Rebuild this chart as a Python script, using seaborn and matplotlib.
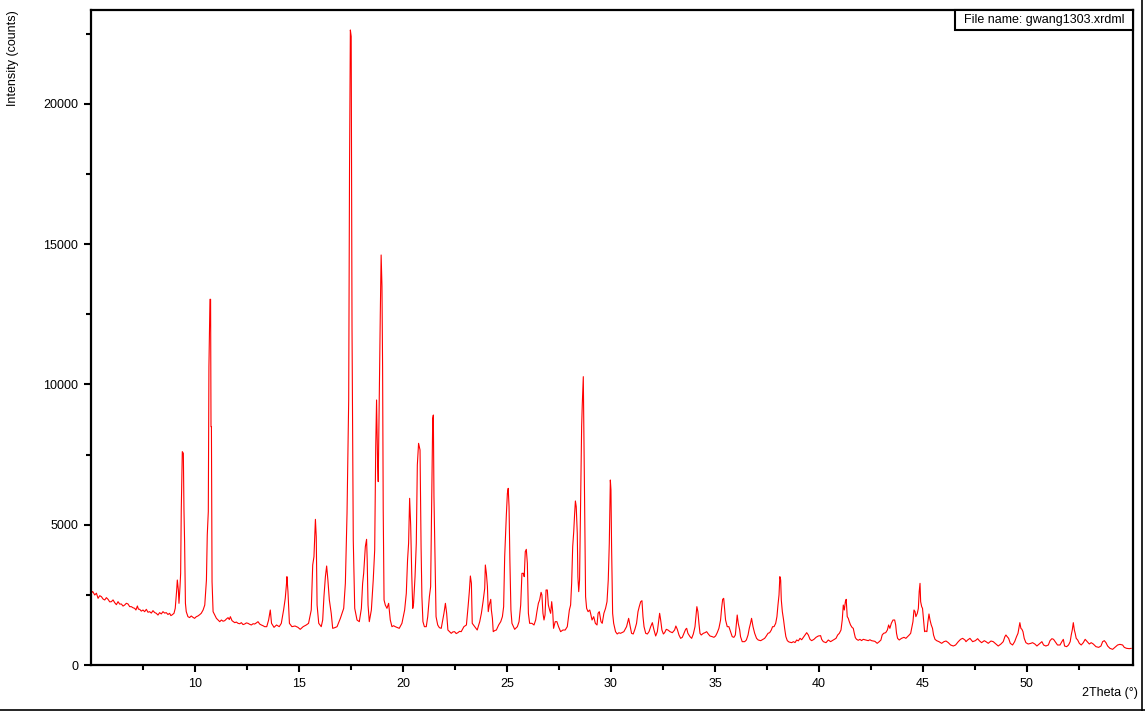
import matplotlib
matplotlib.use("Agg")
import matplotlib.pyplot as plt
from matplotlib.ticker import FixedLocator
from matplotlib.patches import Rectangle
from matplotlib.lines import Line2D
import pandas as pd
import seaborn as sns

# (2Theta in degrees, intensity in counts)
seg_a = [(5.00,2555),(5.08,2620),(5.18,2495),(5.26,2560),(5.34,2376),(5.42,2470),(5.50,2436),(5.58,2350),
         (5.66,2317),(5.74,2400),(5.82,2340),(5.90,2250),(5.98,2257),(6.06,2320),(6.14,2221),(6.22,2150),
         (6.30,2257),(6.38,2170),(6.46,2174),(6.54,2100),(6.62,2138),(6.70,2200),(6.78,2174),(6.86,2080),
         (6.94,2079),(7.02,2040),(7.10,2019),(7.16,1960),(7.23,2103),(7.28,1990),(7.34,1984),(7.42,1920),
         (7.50,1960),(7.58,1900),(7.66,1984),(7.74,1880),(7.82,1901),(7.90,1850),(7.98,1937),(8.06,1870),
         (8.14,1842),(8.22,1780),(8.30,1866),(8.38,1820),(8.46,1901),(8.54,1850),(8.62,1866),(8.70,1800),
         (8.78,1842),(8.84,1760),(8.89,1782),(8.95,1820),(8.99,1842),(9.05,2019),(9.12,2673),(9.15,3029),
         (9.20,2673),(9.23,2198),(9.28,2792),(9.31,3267),(9.34,5524),(9.39,7604),(9.44,7544),(9.47,5524),
         (9.50,4396),(9.54,2198),(9.58,1901),(9.66,1723),(9.74,1690),(9.82,1747),(9.90,1700),(9.98,1663),
         (10.06,1720),(10.14,1747),(10.22,1790),(10.30,1842),(10.39,1960),(10.47,2138),(10.55,3029),
         (10.59,4633),(10.64,5465),(10.67,10632),(10.72,13032),(10.75,13032),(10.77,8494),(10.79,8494),
         (10.82,2970),(10.87,1901),(10.95,1782),(11.03,1663),(11.11,1604),(11.19,1544),(11.27,1604),
         (11.35,1560),(11.43,1580),(11.51,1640),(11.59,1687),(11.65,1620),(11.70,1723),(11.78,1580),
         (11.85,1540),(11.91,1509),(11.99,1530),(12.07,1485),(12.15,1470),(12.23,1509),(12.31,1440),
         (12.39,1461),(12.47,1500),(12.55,1485),(12.63,1450),(12.71,1426),(12.79,1470),(12.87,1461),
         (12.95,1500),(13.03,1544),(13.11,1460),(13.19,1426),(13.27,1400),(13.35,1366)]

seg_b = [(13.45,1366),(13.54,1604),(13.62,1960),(13.68,1485),(13.80,1342),(13.92,1426),(14.05,1366),
         (14.15,1485),(14.26,1960),(14.34,2376),(14.40,2900),(14.42,3148),(14.47,2614),(14.54,1485),
         (14.66,1366),(14.81,1390),(14.95,1342),(15.06,1271),(15.20,1366),(15.35,1426),(15.46,1485),
         (15.59,1960),(15.66,3564),(15.72,3861),(15.79,5191),(15.83,4574),(15.87,2138),(15.95,1485),
         (16.07,1366),(16.14,1604),(16.20,2436),(16.27,3148),(16.33,3528),(16.39,3029),(16.46,2317),
         (16.55,1842),(16.62,1307),(16.72,1330),(16.83,1366),(16.99,1663),(17.15,2019),(17.23,2910),
         (17.31,5405),(17.39,9445),(17.43,17641),(17.47,22631),(17.51,22400),(17.55,12000),(17.61,4455),
         (17.68,2019),(17.79,1604),(17.90,1544),(18.00,2019),(18.06,2910),(18.11,3267),(18.19,4217),
         (18.25,4479),(18.28,3742),(18.32,2138),(18.38,1544),(18.48,1960),(18.57,3029),(18.64,4099),
         (18.69,7782),(18.73,9445),(18.78,7187),(18.81,6534),(18.86,9623),(18.91,12534),(18.95,14612),
         (18.99,13500),(19.02,10632),(19.05,5524),(19.09,2317),(19.15,2138),(19.23,2019),(19.31,2198),
         (19.39,1604),(19.47,1366),(19.55,1400),(19.63,1366),(19.72,1340),(19.82,1307),(19.95,1485),
         (20.08,1960),(20.16,2555),(20.22,3742),(20.27,4336),(20.32,5940),(20.37,4990),(20.42,3267),
         (20.47,2019),(20.51,2198),(20.58,3148),(20.64,4336),(20.69,7128),(20.75,7900),(20.82,7663),
         (20.87,4217),(20.91,2436),(20.96,1544),(21.03,1366),(21.12,1366),(21.19,1723),(21.27,2436),
         (21.33,2792),(21.38,5881),(21.43,8791),(21.46,8910),(21.49,5999),(21.54,3742),(21.59,1723),
         (21.67,1426)]

seg_c = [(21.75,1330),(21.84,1307),(21.97,1842),(22.04,2198),(22.10,1842),(22.16,1247),(22.32,1129),
         (22.40,1180),(22.48,1188),(22.56,1120),(22.64,1152),(22.72,1200),(22.80,1188),(22.93,1366),
         (23.05,1426),(23.13,2079),(23.19,2614),(23.24,3172),(23.29,2910),(23.33,1485),(23.45,1366),
         (23.57,1247),(23.69,1544),(23.77,1842),(23.85,2257),(23.93,2733),(23.96,3564),(24.01,3267),
         (24.06,2792),(24.10,1901),(24.15,2138),(24.22,2340),(24.25,1960),(24.30,1663),(24.34,1188),
         (24.42,1230),(24.49,1247),(24.60,1426),(24.70,1544),(24.78,1723),(24.84,2079),(24.89,3861),
         (24.97,5346),(25.02,6118),(25.06,6296),(25.10,5643),(25.14,3742),(25.19,1960),(25.24,1485),
         (25.37,1271),(25.50,1366),(25.58,1544),(25.66,2138),(25.72,3267),(25.79,3267),(25.83,3148),
         (25.88,4039),(25.93,4122),(25.98,3623),(26.03,1842),(26.09,1485),(26.20,1485),(26.30,1426),
         (26.38,1604),(26.44,1901),(26.51,2198),(26.57,2317),(26.64,2590),(26.68,2495),(26.73,1842),
         (26.78,1604),(26.83,1782),(26.88,2673),(26.94,2673),(26.99,2138),(27.05,1960),(27.10,1842),
         (27.15,2257),(27.20,1901),(27.24,1307),(27.32,1544),(27.40,1544),(27.48,1366),(27.58,1188),
         (27.69,1247),(27.80,1247),(27.90,1366),(28.00,1960),(28.06,2138),(28.11,2910),(28.16,4217),
         (28.21,4752),(28.25,5346),(28.29,5845),(28.33,5643),(28.38,4693),(28.41,3148),(28.45,2614),
         (28.49,3029),(28.54,5762),(28.59,8494),(28.62,9266),(28.67,10276),(28.70,8197),(28.75,4693),
         (28.78,2436),(28.83,2019),(28.90,1901),(28.98,1960),(29.02,1842),(29.09,1604),(29.17,1723),
         (29.25,1485),(29.33,1426),(29.38,1842),(29.44,1901),(29.52,1544),(29.58,1485),(29.66,1842),
         (29.74,2019),(29.81,2257),(29.87,3029),(29.92,4336),(29.97,6593),(30.00,6237),(30.03,4217),
         (30.08,1842),(30.13,1485)]

seg_d = [(30.22,1188),(30.30,1105),(30.38,1150),(30.46,1129),(30.54,1160),(30.62,1188),(30.75,1366),
         (30.85,1663),(30.91,1426),(30.99,1129),(31.07,1105),(31.15,1271),(31.23,1485),(31.30,1901),
         (31.36,2079),(31.43,2257),(31.49,2292),(31.54,1723),(31.59,1366),(31.67,1129),(31.75,1105),
         (31.83,1188),(31.91,1366),(31.99,1509),(32.07,1247),(32.15,1034),(32.23,1188),(32.29,1544),
         (32.34,1842),(32.39,1604),(32.45,1247),(32.52,1105),(32.58,1152),(32.66,1271),(32.74,1247),
         (32.84,1188),(32.95,1152),(33.06,1247),(33.12,1390),(33.19,1271),(33.27,1069),(33.35,950),
         (33.43,986),(33.51,1129),(33.59,1271),(33.64,1307),(33.70,1129),(33.80,1010),(33.88,950),
         (33.96,1105),(34.04,1366),(34.09,1782),(34.13,2079),(34.18,1901),(34.23,1485),(34.28,1129),
         (34.34,1069),(34.44,1129),(34.52,1152),(34.60,1188),(34.68,1105),(34.76,1034),(34.87,1010),
         (34.95,986),(35.03,1034),(35.11,1152),(35.19,1307),(35.27,1604),(35.32,2019),(35.37,2340),
         (35.42,2376),(35.46,2019),(35.51,1604),(35.59,1366),(35.67,1366),(35.75,1188),(35.83,1010),
         (35.91,986),(35.98,1069),(36.03,1485),(36.07,1782),(36.12,1485),(36.19,1247),(36.23,1010),
         (36.31,832),(36.43,832),(36.51,891),(36.59,1069),(36.65,1307),(36.71,1485),(36.76,1663),
         (36.83,1366),(36.91,1129),(37.00,950),(37.08,891),(37.20,867),(37.31,915),(37.39,950),
         (37.47,1034),(37.55,1129),(37.63,1152),(37.71,1247),(37.77,1366),(37.84,1366),(37.92,1485),
         (37.98,1723),(38.03,2138),(38.08,2495),(38.12,3148),(38.16,3029),(38.19,2317),(38.24,1901),
         (38.30,1604),(38.35,1307),(38.41,1010),(38.48,867),(38.56,820),(38.69,796)]

seg_e = [(38.77,832),(38.85,800),(38.93,891),(39.01,860),(39.09,950),(39.17,900),(39.25,986),
         (39.33,1069),(39.41,1152),(39.49,1069),(39.57,915),(39.65,867),(39.76,915),(39.86,986),
         (39.97,1034),(40.08,1046),(40.13,915),(40.21,832),(40.34,796),(40.45,891),(40.56,832),
         (40.69,891),(40.82,950),(40.90,1069),(40.98,1129),(41.06,1247),(41.12,1604),(41.17,2138),
         (41.22,1960),(41.27,2257),(41.31,2340),(41.36,1723),(41.41,1663),(41.46,1544),(41.52,1426),
         (41.59,1342),(41.65,1307),(41.70,1129),(41.75,974),(41.81,915),(41.89,880),(41.97,915),
         (42.05,870),(42.13,915),(42.26,891),(42.37,867),(42.45,900),(42.53,867),(42.69,844),
         (42.80,772),(42.90,832),(42.98,891),(43.04,1069),(43.11,1129),(43.21,1152),(43.29,1247),
         (43.35,1426),(43.41,1307),(43.48,1485),(43.56,1604),(43.64,1604),(43.69,1426),(43.73,1129),
         (43.78,950),(43.86,891),(43.97,950),(44.09,986),(44.18,950),(44.26,1010),(44.34,1069),
         (44.41,1129),(44.47,1366),(44.52,1544),(44.57,1960),(44.62,1901),(44.66,1723),(44.73,1842),
         (44.78,2019),(44.82,2614),(44.86,2910),(44.89,2257),(44.94,2079),(44.98,2019),(45.03,1604),
         (45.08,1188),(45.14,1212),(45.19,1188),(45.24,1544),(45.29,1818),(45.34,1604),(45.40,1426),
         (45.46,1307),(45.51,1069),(45.58,915),(45.66,867),(45.77,832),(45.90,772),(46.01,832),
         (46.11,855),(46.22,796),(46.33,713),(46.46,677),(46.57,713),(46.70,832),(46.81,915),
         (46.91,950),(47.02,891)]

seg_f = [(47.07,832),(47.15,891),(47.26,950),(47.39,832),(47.52,867),(47.63,938),(47.71,867),
         (47.82,796),(47.95,867),(48.03,832),(48.14,772),(48.27,855),(48.38,832),(48.51,748),
         (48.62,677),(48.75,748),(48.86,832),(48.94,1010),(48.99,1069),(49.05,1010),(49.12,950),
         (49.20,772),(49.31,713),(49.41,832),(49.50,1010),(49.57,1129),(49.62,1342),(49.66,1509),
         (49.71,1307),(49.76,1271),(49.81,1188),(49.87,950),(49.95,796),(50.06,748),(50.19,772),
         (50.27,796),(50.38,748),(50.48,677),(50.59,748),(50.72,832),(50.80,713),(50.91,677),
         (51.03,713),(51.11,867),(51.20,938),(51.28,915),(51.36,832),(51.47,713),(51.59,713),
         (51.68,832),(51.75,915),(51.81,677),(51.91,653),(52.00,713),(52.08,832),(52.13,1069),
         (52.18,1247),(52.23,1509),(52.28,1247),(52.32,1129),(52.37,950),(52.44,891),(52.52,772),
         (52.61,713),(52.71,796),(52.80,915),(52.90,832),(53.00,748),(53.09,796),(53.19,748),
         (53.32,653),(53.45,629),(53.56,677),(53.64,832),(53.72,867),(53.80,796),(53.88,677),
         (53.99,594),(54.12,558),(54.23,629),(54.36,713),(54.47,736),(54.60,713),(54.68,629),
         (54.79,594),(54.92,582),(55.02,594)]

x_major = [10, 15, 20, 25, 30, 35, 40, 45, 50]
x_minor = [7.5, 12.5, 17.5, 22.5, 27.5, 32.5, 37.5, 42.5, 47.5, 52.5]
y_major = [0, 5000, 10000, 15000, 20000]
y_minor = [2500, 7500, 12500, 17500, 22500]

title_box = "File name: gwang1303.xrdml"
x_label = "2Theta (°)"
y_label = "Intensity (counts)"

sns.set_theme(style="ticks")
plt.rcParams['font.family'] = ['Liberation Sans', 'DejaVu Sans']

df = pd.DataFrame(seg_a + seg_b + seg_c + seg_d + seg_e + seg_f,
                  columns=["two_theta", "counts"])

W, H = 1145, 711
fig = plt.figure(figsize=(W / 100, H / 100), dpi=100)
fig.patch.set_facecolor("white")
L, R, T, B = 91, 1133, 10, 665
ax = fig.add_axes([L / W, 1 - B / H, (R - L) / W, (B - T) / H])
ax.set_facecolor("white")

sns.lineplot(data=df, x="two_theta", y="counts", ax=ax, color="#ff0000",
             linewidth=0.8, estimator=None, sort=False)

ax.set_xlim(5, 55.1)
ax.set_ylim(0, 23343)
ax.xaxis.set_major_locator(FixedLocator(x_major))
ax.xaxis.set_minor_locator(FixedLocator(x_minor))
ax.yaxis.set_major_locator(FixedLocator(y_major))
ax.yaxis.set_minor_locator(FixedLocator(y_minor))
ax.set_xticklabels([str(v) for v in x_major])
ax.set_yticklabels([str(v) for v in y_major])
ax.set_xlabel("")
ax.set_ylabel("")

ax.tick_params(axis="both", which="major", direction="out", length=5.2, width=1.5,
               color="black", labelsize=9, labelcolor="black", pad=4)
ax.tick_params(axis="both", which="minor", direction="out", length=3.6, width=1.5,
               color="black")
for s in ax.spines.values():
    s.set_visible(True)
    s.set_color("black")
    s.set_linewidth(1.6)

# file-name box in the top right corner of the plot area
bx0 = (955 - L) / (R - L)
by0 = 1 - 20 / (B - T)
ax.add_patch(Rectangle((bx0, by0), 1 - bx0, 1 - by0, transform=ax.transAxes,
                       facecolor="white", edgecolor="black", linewidth=1.5,
                       zorder=5, clip_on=False))
ax.text((bx0 + 1) / 2, (by0 + 1) / 2, title_box, transform=ax.transAxes,
        ha="center", va="center", fontsize=9, color="black", zorder=6)

fig.text(13 / W, 1 - 10 / H, y_label, rotation=90, ha="center", va="top",
         fontsize=9, color="black")
fig.text(1138 / W, 1 - 693 / H, x_label, ha="right", va="center",
         fontsize=9, color="black")

# window frame lines (bottom and right)
fig.add_artist(Line2D([0, 1], [0.6 / H, 0.6 / H], color="black", linewidth=1.2,
                      transform=fig.transFigure))
fig.add_artist(Line2D([1141.5 / W, 1141.5 / W], [0, 1], color="black", linewidth=1.2,
                      transform=fig.transFigure))

fig.savefig("out.png", dpi=100)
